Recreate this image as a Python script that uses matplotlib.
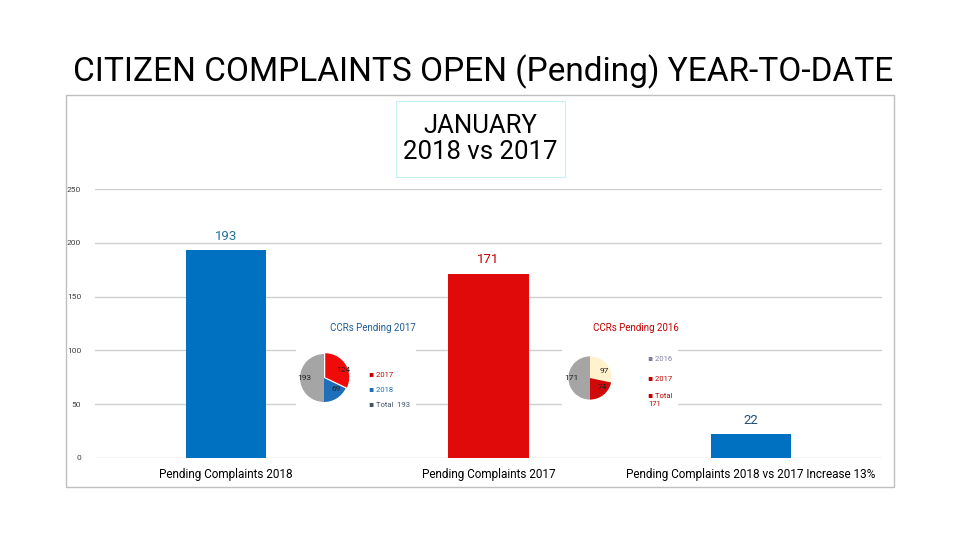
import numpy as np
import matplotlib
matplotlib.use("Agg")
import matplotlib.pyplot as plt
from matplotlib.patches import Rectangle

plt.rcParams['font.family'] = ['Roboto', 'DejaVu Sans']

# ---------------- data ----------------
categories = ['Pending Complaints 2018', 'Pending Complaints 2017',
              'Pending Complaints 2018 vs 2017 Increase 13%']
values = [193, 171, 22]
bar_colors = ['#0070C0', '#E00A0A', '#0070C0']
label_colors = ['#1F6F9F', '#C00000', '#1F4E79']

pie1_values = [124, 69, 193]
pie1_labels = ['2017', '2018', 'Total  193']
pie1_colors = ['#F00A0A', '#1F6FB8', '#A5A5A5']

pie2_values = [97, 74, 171]
pie2_labels = ['2016', '2017', 'Total\n171']
pie2_colors = ['#FFF2CC', '#D00A0A', '#A5A5A5']

W, H = 960, 540
fig = plt.figure(figsize=(9.6, 5.4), dpi=100)


def px_axes(x0, y0, x1, y1, **kw):
    # axes from pixel box (top-left origin)
    return fig.add_axes([x0 / W, 1 - y1 / H, (x1 - x0) / W, (y1 - y0) / H], **kw)


# outer frame
fig.patches.append(Rectangle((66 / W, 1 - 487 / H), (894 - 66) / W, (487 - 95) / H,
                             transform=fig.transFigure, fill=False,
                             edgecolor='#BFBFBF', lw=1))

fig.text(483 / W, 1 - 72 / H, 'CITIZEN COMPLAINTS OPEN (Pending) YEAR-TO-DATE',
         ha='center', va='center', fontsize=24, color='black')

# ---------------- main bar chart ----------------
ax = px_axes(95, 189, 882, 458)
x = np.arange(len(values))
ax.bar(x, values, width=0.305, color=bar_colors, zorder=2)
ax.set_xlim(-0.5, 2.5)
ax.set_ylim(0, 250)
ax.set_yticks(np.arange(0, 251, 50))
ax.grid(axis='y', color='#D0D0D0', lw=1, zorder=0)
for s in ax.spines.values():
    s.set_visible(False)
ax.tick_params(axis='y', length=0, labelsize=6, labelcolor='#404040', pad=10)
ax.tick_params(axis='x', length=0, labelsize=8.5, pad=7)
ax.set_xticks(x)
ax.set_xticklabels(categories)
for i, v in enumerate(values):
    ax.text(i, v + 7, str(v), ha='center', va='bottom', fontsize=9.5,
            color=label_colors[i])

# title box
tb = px_axes(396, 101, 565, 177)
tb.set_xticks([])
tb.set_yticks([])
for s in tb.spines.values():
    s.set_color('#C8F0F0')
tb.text(0.5, 0.5, 'JANUARY\n2018 vs 2017', ha='center', va='center',
        fontsize=18.5, linespacing=1.15, transform=tb.transAxes)

# ---------------- inset pies ----------------
def inset_pie(box, pie_box, vals, cols, explode, title, title_color,
              legend_xy, labels, legend_colors, legend_y):
    bg = px_axes(*box)
    bg.set_facecolor('white')
    bg.set_xticks([])
    bg.set_yticks([])
    for s in bg.spines.values():
        s.set_visible(False)
    pa = px_axes(*pie_box)
    pa.pie(vals, colors=cols, startangle=90, counterclock=False,
           explode=explode, labels=[str(v) for v in vals],
           labeldistance=0.55,
           textprops=dict(fontsize=6, color='#202020'))
    pa.set_aspect('equal')
    fig.text(title[0] / W, 1 - title[1] / H, title[2], ha='center', va='center',
             fontsize=7, color=title_color)
    for lab, c, ly in zip(labels, legend_colors, legend_y):
        fig.text(legend_xy / W, 1 - ly / H, '▪ ' + lab, ha='left', va='center',
                 fontsize=5.5, color=c, linespacing=1.6)


inset_pie((296, 340, 416, 415), (294, 348, 354, 408), pie1_values, pie1_colors,
          [0.06, 0, 0], (373, 328, 'CCRs Pending 2017'), '#1F5C99',
          369, pie1_labels, ['#C00000', '#1F6FB8', '#44546A'], [375, 390, 405])
inset_pie((562, 340, 678, 415), (563, 351, 617, 405), pie2_values, pie2_colors,
          [0, 0, 0], (636, 328, 'CCRs Pending 2016'), '#C00000',
          648, pie2_labels, ['#7F7F9F', '#C00000', '#C00000'], [359, 379, 400])

fig.savefig('out.png', dpi=100)
